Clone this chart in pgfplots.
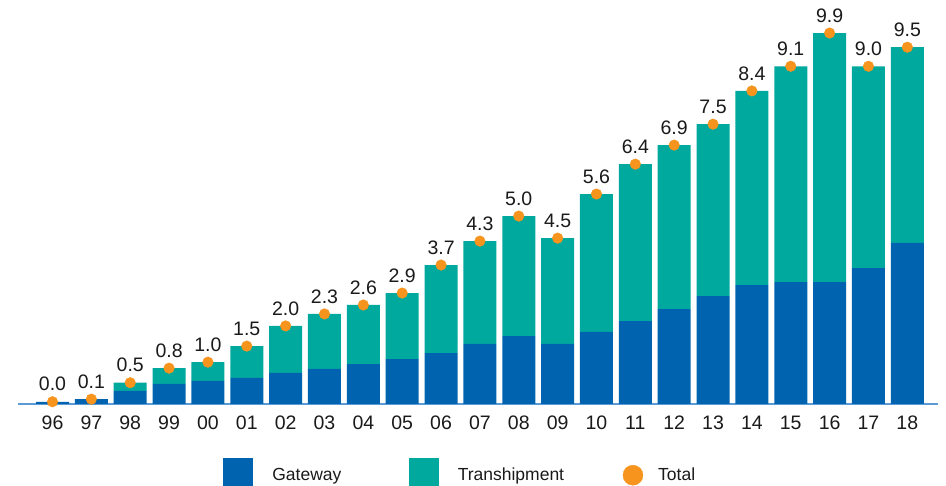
\documentclass[border=0pt]{standalone}
\usepackage{fontspec}
\setmainfont{Liberation Sans}
\usepackage{pgfplots}
\usepackage{pgfplotstable}
\pgfplotsset{compat=1.18}
\definecolor{gw}{HTML}{0063B0}
\definecolor{ts}{HTML}{00A99E}
\definecolor{tot}{HTML}{F7941D}
\definecolor{axl}{HTML}{5B9BD5}
\definecolor{txt}{HTML}{1A1A1A}
\newcommand\lblfont{\fontsize{19.5bp}{23bp}\selectfont}
\newcommand\legfont{\fontsize{17.5bp}{21bp}\selectfont}

\pgfplotstableread{
x gw ts tot lab
0 0.06 0.00 0.06 0.0
1 0.13 0.00 0.13 0.1
2 0.35 0.22 0.57 0.5
3 0.54 0.42 0.96 0.8
4 0.62 0.50 1.12 1.0
5 0.70 0.85 1.55 1.5
6 0.83 1.26 2.09 2.0
7 0.94 1.47 2.41 2.3
8 1.07 1.58 2.65 2.6
9 1.20 1.77 2.97 2.9
10 1.36 2.36 3.72 3.7
11 1.61 2.75 4.36 4.3
12 1.82 3.21 5.03 5.0
13 1.61 2.83 4.44 4.5
14 1.93 3.69 5.62 5.6
15 2.22 4.20 6.42 6.4
16 2.54 4.39 6.93 6.9
17 2.89 4.60 7.49 7.5
18 3.18 5.20 8.38 8.4
19 3.26 5.78 9.04 9.1
20 3.26 6.67 9.93 9.9
21 3.64 5.40 9.04 9.0
22 4.31 5.24 9.55 9.5
}\data

\pgfplotsset{
  common/.style={
    at={(18bp,82bp)}, anchor=south west, scale only axis,
    width=920bp, height=396bp,
    xmin=-0.888, xmax=22.79, ymin=0, ymax=10.6,
    clip=false,
  }
}

\begin{document}
\begin{tikzpicture}
\begin{axis}[
  common,
  ybar stacked, bar width=33bp,
  axis y line=none, axis x line*=bottom,
  x axis line style={axl, line width=1.3bp, -},
  xtick={0,...,22},
  xticklabels={96,97,98,99,00,01,02,03,04,05,06,07,08,09,10,11,12,13,14,15,16,17,18},
  major tick length=0pt, tick style={draw=none},
  xticklabel style={font=\lblfont, text=txt, inner sep=0pt, anchor=north, yshift=-11.5bp},
]
\addplot[fill=gw, draw=none] table[x=x, y=gw]{\data};
\addplot[fill=ts, draw=none] table[x=x, y=ts]{\data};
\end{axis}
\begin{axis}[
  common,
  hide axis,
  legend columns=3,
  legend cell align=left,
  legend style={draw=none, fill=none, inner sep=0pt, outer sep=0pt,
    column sep=0pt, row sep=0pt, font=\legfont, text=txt,
    nodes={inner sep=0pt, outer sep=0pt},
    at={(rel axis cs:0.2228,-0.1364)}, anchor=north west},
]
\addlegendimage{legend image code/.code={\fill[gw] (0bp,-6bp) rectangle (29bp,22bp); \path (49bp,0bp);}}
\addlegendentry{\raisebox{10bp}{\makebox[137bp][l]{Gateway}}}
\addlegendimage{legend image code/.code={\fill[ts] (0bp,-6bp) rectangle (29bp,22bp); \path (48bp,0bp);}}
\addlegendentry{\raisebox{10bp}{\makebox[165bp][l]{Transhipment}}}
\addplot[only marks, mark=*, mark size=5.3bp, color=tot, mark options={draw=none, fill=tot},
  nodes near coords, point meta=explicit symbolic,
  every node near coord/.append style={anchor=south, inner sep=0pt, yshift=10.5bp, font=\lblfont, text=txt},
  legend image code/.code={\fill[tot] (10bp,5bp) circle (10bp); \path (35bp,0bp);}]
  table[x=x, y=tot, meta=lab]{\data};
\addlegendentry{\raisebox{10bp}{Total}}
\end{axis}
\pgfresetboundingbox
\path[use as bounding box] (0,0) rectangle (946bp,486bp);
\end{tikzpicture}
\end{document}
